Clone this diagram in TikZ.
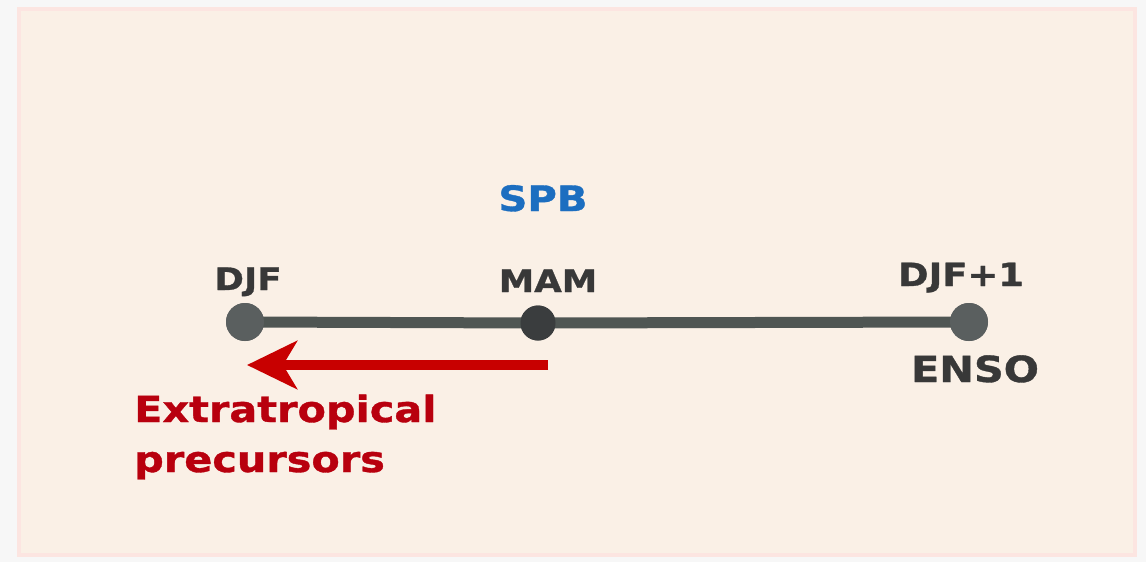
\documentclass[tikz,border=0pt]{standalone}
\usepackage{fontspec}
\usetikzlibrary{arrows.meta}
\newfontfamily\vfont[FakeStretch=1.15, FakeBold=1]{DejaVu Sans}
\definecolor{outerbg}{HTML}{F7F7F7}
\definecolor{panelbg}{HTML}{FAF0E6}
\definecolor{panelrim}{HTML}{FCE5E1}
\definecolor{txtgray}{HTML}{383838}
\definecolor{linegray}{HTML}{4F5653}
\definecolor{dotgray}{HTML}{5A5F5F}
\definecolor{dotdark}{HTML}{3A3D3E}
\definecolor{spbblue}{HTML}{1C6EC0}
\definecolor{precred}{HTML}{B8000E}
\definecolor{arrred}{HTML}{C80000}
\tikzset{
  lbl/.style={inner sep=0pt, text=txtgray, font=\vfont\bfseries\fontsize{31}{37}\selectfont},
  dotnode/.style={circle, inner sep=0pt, minimum size=38pt, fill=dotgray},
}
\begin{document}
\begin{tikzpicture}[x=1pt,y=-1pt]
\useasboundingbox (0,0) rectangle (1146,562);
\fill[outerbg] (0,0) rectangle (1146,562);
\draw[panelrim, line width=4pt, fill=panelbg] (19,9) rectangle (1135,555);
% dots
\node[dotnode] (djf) at (245,322) {};
\node[dotnode, minimum size=35pt, fill=dotdark] (mam) at (538,323) {};
\node[dotnode] (djf1) at (969,322) {};
\draw[linegray, line width=11pt] (djf.center) -- (mam.center) -- (djf1.center);
\node[dotnode] at (djf) {};
\node[dotnode, minimum size=35pt, fill=dotdark] at (mam) {};
\node[dotnode] at (djf1) {};
% labels
\node[lbl, anchor=base] (tdjf) at (248,290) {DJF};
\node[lbl, anchor=base] (tmam) at (548,292) {MAM};
\node[lbl, anchor=base, font=\vfont\bfseries\fontsize{32}{37}\selectfont] (tdjf1) at (961,286) {DJF+1};
\node[lbl, anchor=base, font=\vfont\bfseries\fontsize{36}{40}\selectfont] (tenso) at (975,382) {ENSO};
\node[lbl, anchor=base, text=spbblue, font=\vfont\bfseries\fontsize{35}{38}\selectfont] (tspb) at (543,211) {SPB};
% arrow
\coordinate (astart) at (548,365);
\coordinate (aend) at (247,365);
\draw[arrred, line width=10pt, -{Stealth[length=50pt, width=48pt, inset=14pt]}] (astart) -- (aend);
\node[lbl, anchor=base west, text=precred, align=left, font=\vfont\bfseries\fontsize{36}{50}\selectfont] (tprec) at (134,472) {Extratropical\\precursors};
\end{tikzpicture}
\end{document}
